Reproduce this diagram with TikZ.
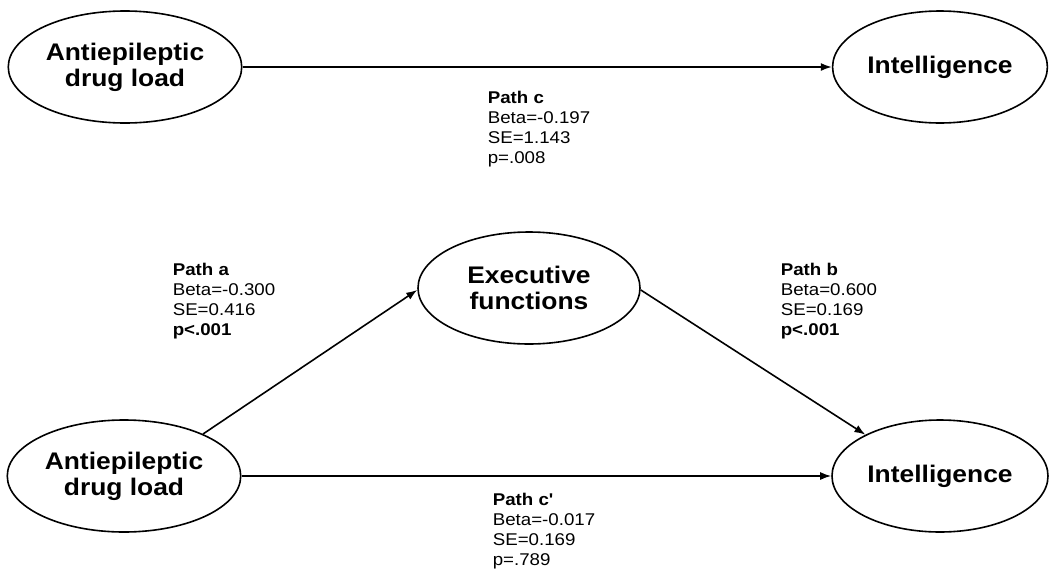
\documentclass[tikz,border=0pt]{standalone}
\usepackage{fontspec}
\setmainfont[FakeStretch=1.1]{Liberation Sans}
\usetikzlibrary{shapes.geometric,arrows.meta}

\begin{document}
\begin{tikzpicture}[x=1pt,y=-1pt,line width=1.6pt]

      \useasboundingbox (0,0) rectangle (1050,571);

      \begin{scope}[every node/.style={ellipse,draw,align=center,
          minimum width=222pt,minimum height=112pt,
          font=\bfseries\fontsize{24}{26}\selectfont}]
        \node (1) at (125,67)  {Antiepileptic\\drug load};
        \node[minimum width=214pt] (2) at (940,67)  {Intelligence};
        \node (3) at (124,476) {Antiepileptic\\drug load};
        \node (4) at (529,288) {Executive\\functions};
        \node[minimum width=216pt] (5) at (940,476) {Intelligence};
      \end{scope}

      \begin{scope}[every node/.style={anchor=north west,align=left,inner sep=0pt,
          font=\fontsize{17}{20}\selectfont}]
        \node (c)  at (487,90)  {\textbf{Path c}\\Beta=-0.197\\SE=1.143\\p=.008};
        \node (a)  at (172,262) {\textbf{Path a}\\Beta=-0.300\\SE=0.416\\\textbf{p<.001}};
        \node (b)  at (780,262) {\textbf{Path b}\\Beta=0.600\\SE=0.169\\\textbf{p<.001}};
        \node (c2) at (492,492) {\textbf{Path c\textquotesingle}\\Beta=-0.017\\SE=0.169\\p=.789};
      \end{scope}

      \begin{scope}[every edge/.style={draw,-{Latex[length=11pt,width=8pt]}}]
        \path (1.east)  edge (2.west);
        \path (3.28)    edge (4.181);
        \path (4.-1)    edge (5.151);
        \path (3.east)  edge (5.west);
      \end{scope}

    \end{tikzpicture}
\end{document}
